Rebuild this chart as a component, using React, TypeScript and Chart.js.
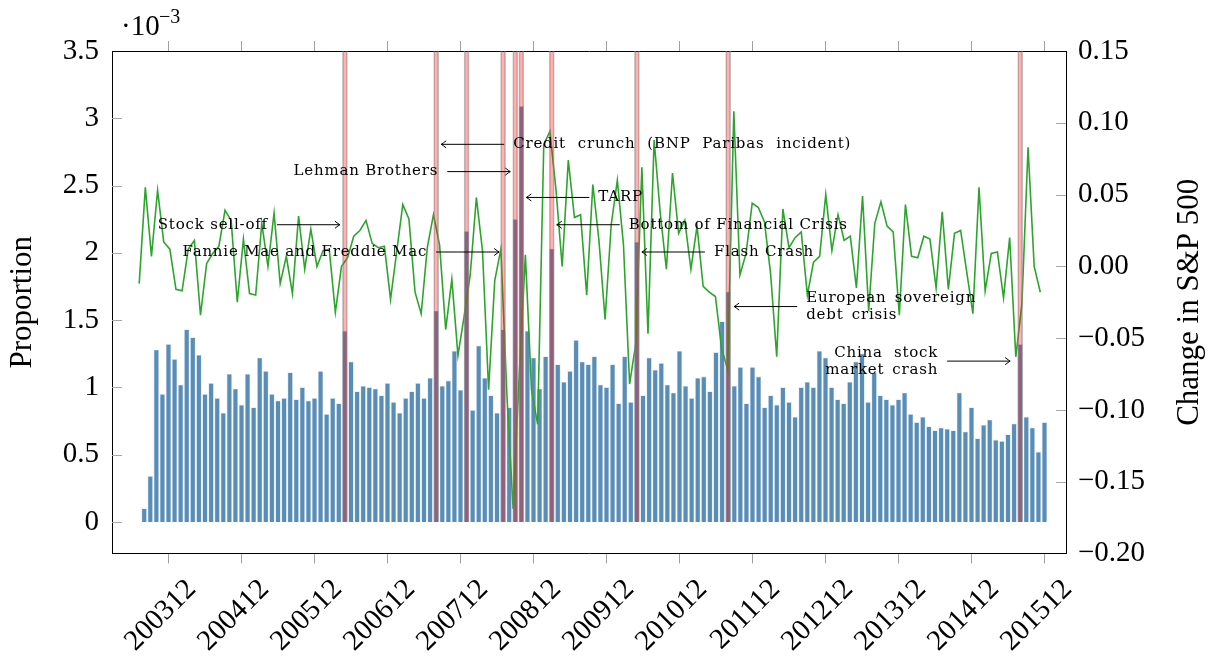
import React, { useEffect, useRef } from "react";
import { Chart, registerables } from "chart.js";

Chart.register(...registerables);

// ---------------- data ----------------
const BAR_START = "200308";
const LINE_START = "200309";

// Proportion (x 10^-3), monthly 2003-08 .. 2015-12
const proportion = [
  0.1, 0.34, 1.28, 0.95, 1.32, 1.21, 1.02, 1.43, 1.37, 1.24, 0.95, 1.03, 0.92, 0.81, 1.1, 0.99, 0.87, 1.1, 0.85, 1.22, 1.12, 0.95,
  0.9, 0.92, 1.11, 0.91, 1.0, 0.9, 0.92, 1.12, 0.8, 0.92, 0.88, 1.42, 1.19, 0.97, 1.01, 1.0, 0.99, 0.94, 1.03, 0.89, 0.81, 0.92, 0.97, 1.03, 0.92,
  1.07, 1.57, 1.01, 1.05, 1.27, 0.98, 2.16, 0.83, 1.31, 1.07, 0.94, 0.81, 1.43, 0.85, 2.25, 3.09, 1.42, 1.22, 0.99, 1.23, 2.03, 1.17, 1.04, 1.12, 1.35,
  1.19, 1.17, 1.23, 1.02, 1.0, 1.17, 0.88, 1.23, 0.89, 2.08, 0.94, 1.22, 1.13, 1.18, 1.02, 0.96, 1.27, 1.01, 0.92, 1.07, 1.08, 0.97, 1.26, 1.49, 1.71,
  1.01, 1.15, 0.88, 1.15, 1.08, 0.85, 0.94, 0.87, 1.0, 0.89, 0.78, 1.0, 1.04, 1.0, 1.27, 1.22, 1.0, 0.91, 0.88, 1.04, 1.19, 1.25, 0.89, 1.11, 0.94, 0.91, 0.87,
  0.91, 0.96, 0.8, 0.74, 0.78, 0.71, 0.68, 0.7, 0.69, 0.68, 0.96, 0.67, 0.85, 0.62, 0.72, 0.76, 0.61, 0.6, 0.65, 0.73, 1.32, 0.78, 0.7, 0.52, 0.74,
];

// Monthly change in S&P 500, 2003-09 .. 2015-12
const spChange = [
  -0.012, 0.055, 0.007, 0.053, 0.017, 0.012, -0.016, -0.017, 0.012, 0.018, -0.034, 0.002,
  0.009, 0.014, 0.039, 0.032, -0.025, 0.019, -0.019, -0.02, 0.03, 0.0,
  0.037, -0.012, 0.007, -0.019, 0.035, -0.002, 0.026, 0.0, 0.011, 0.012, -0.032, 0.0, 0.006, 0.021, 0.025, 0.032, 0.016, 0.013, 0.014, -0.023, 0.01, 0.043, 0.033, -0.018, -0.033, 0.013,
  0.036, 0.015, -0.044, -0.009, -0.062, -0.035, -0.006, 0.048, 0.011, -0.086, -0.01, 0.012, -0.091, -0.169, -0.075, 0.008, -0.086, -0.11, 0.085, 0.094, 0.053, 0.0, 0.074, 0.034, 0.036,
  -0.02, 0.057, 0.018, -0.037, 0.029, 0.06, 0.015, -0.082, -0.054, 0.069, -0.047, 0.088, 0.037, -0.002, 0.065, 0.023, 0.032, -0.002, 0.028, -0.014, -0.018, -0.021, -0.057, -0.072, 0.108,
  -0.006, 0.009, 0.044, 0.041, 0.031, -0.005, -0.063, 0.04, 0.013, 0.02, 0.024, -0.02, 0.003, 0.007, 0.05, 0.011, 0.036, 0.018, 0.021, -0.015, 0.049, -0.031, 0.03, 0.045, 0.028, 0.024,
  -0.034, 0.043, 0.007, 0.006, 0.021, 0.019, -0.015, 0.038, -0.016, 0.023, 0.025, -0.004, -0.033, 0.055, -0.017, 0.009, 0.01, -0.022, 0.02, -0.063, -0.026, 0.083, 0.0, -0.018,
];

const eventMonths = ["200605", "200708", "200801", "200807", "200809", "200810", "200903", "201005", "201108", "201508"];

const xTickMonths = ["200312", "200412", "200512", "200612", "200712", "200812", "200912", "201012", "201112", "201212", "201312", "201412", "201512"];
const leftTicks = [0, 0.5, 1, 1.5, 2, 2.5, 3, 3.5];
const rightTicks = [-0.2, -0.15, -0.1, -0.05, 0, 0.05, 0.1, 0.15];

const annotationTexts = [
  ["Credit crunch (BNP Paribas incident)"],
  ["Lehman Brothers"],
  ["TARP"],
  ["Stock sell-off"],
  ["Bottom of Financial Crisis"],
  ["Fannie Mae and Freddie Mac"],
  ["Flash Crash"],
  ["European sovereign", "debt crisis"],
  ["China stock", "market crash"],
];
const annotationEvents = ["200708", "200809", "200810", "200605", "200903", "200807", "201005", "201108", "201508"];
const annotationLevels = [0.085, 0.066, 0.048, 0.029, 0.029, 0.01, 0.01, -0.028, -0.066];

// ---------------- styling / layout ----------------
const annotationSide = ["right", "left", "right", "left", "right", "left", "right", "right", "left"];
const annotationWidths: (number | null)[][] = [[338], [null], [null], [null], [null], [null], [92], [170, 91], [104, 113]];
const annotationTipGap = [5, 5, 5, 5, 5, 4, 5, 6, 10];

const W = 1211;
const H = 660;
const AREA = { left: 112, right: 1066, top: 51, bottom: 553.5 };
const SERIF = '"Liberation Serif", "Times New Roman", serif';
const ANN_FONT = '15px "DejaVu Serif", serif';

function monthSeq(start: string, n: number): string[] {
  let y = +start.slice(0, 4);
  let m = +start.slice(4);
  const out: string[] = [];
  for (let i = 0; i < n; i++) {
    out.push(`${y}${String(m).padStart(2, "0")}`);
    m++;
    if (m > 12) {
      m = 1;
      y++;
    }
  }
  return out;
}
function monthPos(m: string): number {
  return (+m.slice(0, 4) - 2003) * 12 + (+m.slice(4) - 1);
}

// axis ranges (month units)
const X_MIN = 1.712;
const X_MAX = 158.534;
const XL_MIN = 3.563;
const XL_MAX = 159.19;

const fmtRight = (v: number) => (v < 0 ? "\u2212" : "") + Math.abs(v).toFixed(2);

function drawArrow(ctx: CanvasRenderingContext2D, x1: number, y: number, x2: number) {
  const dir = x2 > x1 ? 1 : -1;
  ctx.beginPath();
  ctx.moveTo(x1, y);
  ctx.lineTo(x2, y);
  ctx.stroke();
  ctx.beginPath();
  ctx.moveTo(x2 - dir * 5, y - 3.6);
  ctx.quadraticCurveTo(x2 - dir * 1.5, y - 0.8, x2, y);
  ctx.quadraticCurveTo(x2 - dir * 1.5, y + 0.8, x2 - dir * 5, y + 3.6);
  ctx.stroke();
}

const overlayPlugin = {
  id: "overlay",
  afterDraw(chart: any) {
    const { ctx, chartArea: ca, scales } = chart;
    ctx.save();
    // inner y ticks (skip those on the box edges)
    ctx.strokeStyle = "#a8a8a8";
    ctx.lineWidth = 1;
    leftTicks.forEach((v) => {
      const py = scales.y.getPixelForValue(v);
      if (py <= ca.top + 1 || py >= ca.bottom - 1) return;
      const y = Math.round(py) + 0.5;
      ctx.beginPath();
      ctx.moveTo(ca.left, y);
      ctx.lineTo(ca.left + 10, y);
      ctx.stroke();
    });
    rightTicks.forEach((v) => {
      const py = scales.y2.getPixelForValue(v);
      if (py <= ca.top + 1 || py >= ca.bottom - 1) return;
      const y = Math.round(py) + 0.5;
      ctx.beginPath();
      ctx.moveTo(ca.right - 10, y);
      ctx.lineTo(ca.right, y);
      ctx.stroke();
    });

    // axis titles
    ctx.fillStyle = "#000";
    ctx.font = `31px ${SERIF}`;
    ctx.textAlign = "center";
    ctx.textBaseline = "middle";
    const cy = (ca.top + ca.bottom) / 2;
    ctx.save();
    ctx.translate(23, cy);
    ctx.rotate(-Math.PI / 2);
    ctx.fillText("Proportion", 0, 0);
    ctx.restore();
    ctx.save();
    ctx.translate(1190, cy);
    ctx.rotate(-Math.PI / 2);
    ctx.fillText("Change in S&P 500", 0, 0);
    ctx.restore();

    // exponent label
    ctx.textAlign = "left";
    ctx.textBaseline = "alphabetic";
    ctx.font = `29px ${SERIF}`;
    ctx.fillText("\u00B710", 121, 35);
    ctx.font = `20px ${SERIF}`;
    ctx.fillText("\u22123", 159, 23);

    // annotations
    ctx.strokeStyle = "#000";
    ctx.lineWidth = 1;
    ctx.font = ANN_FONT;
    ctx.textBaseline = "middle";
    (ctx as any).letterSpacing = "0.8px";
    annotationTexts.forEach((lines, i) => {
      const bandX = scales.x.getPixelForValue(monthPos(annotationEvents[i]));
      const y = scales.y2.getPixelForValue(annotationLevels[i]);
      const right = annotationSide[i] === "right";
      const tip = right ? bandX + annotationTipGap[i] : bandX - annotationTipGap[i];
      const tail = right ? tip + 63 : tip - 63;
      drawArrow(ctx, tail, y, tip);
      const n = lines.length;
      lines.forEach((t, li) => {
        const ly = y + (li - (n - 1) / 2) * 17;
        (ctx as any).wordSpacing = "0px";
        const natural = ctx.measureText(t).width;
        const target = annotationWidths[i][li];
        const spaces = (t.match(/ /g) || []).length;
        let width = natural;
        if (target && spaces > 0 && target > natural) {
          (ctx as any).wordSpacing = `${(target - natural) / spaces}px`;
          width = target;
        }
        ctx.textAlign = "left";
        const x = right ? tail + 9 : tail - 9 - width;
        ctx.fillText(t, x, ly);
      });
      (ctx as any).wordSpacing = "0px";
    });
    ctx.restore();
  },
};

export default function App() {
  const ref = useRef<HTMLCanvasElement | null>(null);

  useEffect(() => {
    if (!ref.current) return;
    const barMonths = monthSeq(BAR_START, proportion.length);
    const lineMonths = monthSeq(LINE_START, spChange.length);
    const xTickValues = xTickMonths.map(monthPos);

    const xTicksBuild = (s: any) => {
      s.ticks = xTickValues.map((v) => ({ value: v }));
    };

    const chart = new Chart(ref.current, {
      type: "bar",
      data: {
        datasets: [
          {
            type: "bar",
            label: "events",
            data: eventMonths.map((m) => ({ x: monthPos(m), y: [0, leftTicks[leftTicks.length - 1]] })) as any,
            xAxisID: "x",
            yAxisID: "y",
            backgroundColor: "rgba(255,0,0,0.3)",
            borderColor: "rgba(140,140,140,0.55)",
            borderWidth: { left: 1, right: 1, top: 0, bottom: 0 } as any,
            borderSkipped: false,
            barThickness: 5,
            grouped: false,
            order: 0,
          } as any,
          {
            type: "line",
            label: "S&P 500",
            data: spChange.map((v, j) => ({ x: monthPos(lineMonths[j]), y: v })),
            xAxisID: "xl",
            yAxisID: "y2",
            borderColor: "#2ca52c",
            borderWidth: 1.6,
            pointRadius: 0,
            tension: 0,
            fill: false,
            order: 1,
          } as any,
          {
            type: "bar",
            label: "Proportion",
            data: proportion.map((v, k) => ({ x: monthPos(barMonths[k]), y: v })),
            xAxisID: "x",
            yAxisID: "y",
            backgroundColor: "#5a8db6",
            borderColor: "rgba(215,230,242,0.9)",
            borderWidth: 0.8,
            barThickness: 5,
            grouped: false,
            order: 2,
          } as any,
        ],
      },
      options: {
        animation: false,
        responsive: true,
        maintainAspectRatio: false,
        layout: { padding: 0 },
        plugins: { legend: { display: false }, tooltip: { enabled: false } },
        scales: {
          x: {
            type: "linear",
            position: "bottom",
            offset: false,
            min: X_MIN,
            max: X_MAX,
            afterBuildTicks: xTicksBuild,
            afterFit: (s: any) => {
              s.height = H - AREA.bottom;
            },
            ticks: {
              autoSkip: false,
              maxRotation: 45,
              minRotation: 45,
              padding: 9,
              labelOffset: 23,
              color: "#000",
              font: { family: SERIF, size: 29 },
              callback: (_v: any, i: number) => xTickMonths[i],
            },
            grid: { offset: false, drawOnChartArea: false, drawTicks: true, tickLength: 10, tickColor: "#a0a0a0" },
            border: { display: true, color: "#000", width: 1 },
          },
          xTop: {
            type: "linear",
            position: "top",
            offset: false,
            min: X_MIN,
            max: X_MAX,
            afterBuildTicks: xTicksBuild,
            afterFit: (s: any) => {
              s.height = AREA.top;
            },
            ticks: { display: false },
            grid: { offset: false, drawOnChartArea: false, drawTicks: true, tickLength: 10, tickColor: "#a0a0a0" },
            border: { display: true, color: "#000", width: 1 },
          },
          xl: {
            type: "linear",
            display: false,
            offset: false,
            min: XL_MIN,
            max: XL_MAX,
            grid: { offset: false },
          },
          y: {
            position: "left",
            min: -0.234,
            max: 3.5,
            afterBuildTicks: (s: any) => {
              s.ticks = leftTicks.map((v) => ({ value: v }));
            },
            afterFit: (s: any) => {
              s.width = AREA.left;
            },
            ticks: {
              padding: 13,
              color: "#000",
              font: { family: SERIF, size: 29 },
              callback: (v: any) => String(v),
            },
            grid: { display: false, drawTicks: false },
            border: { display: true, color: "#000", width: 1 },
          },
          y2: {
            position: "right",
            min: -0.2,
            max: 0.15,
            afterBuildTicks: (s: any) => {
              s.ticks = rightTicks.map((v) => ({ value: v }));
            },
            afterFit: (s: any) => {
              s.width = W - AREA.right;
            },
            ticks: {
              padding: 12,
              color: "#000",
              font: { family: SERIF, size: 29 },
              callback: (v: any) => fmtRight(Number(v)),
            },
            grid: { display: false, drawTicks: false },
            border: { display: true, color: "#000", width: 1 },
          },
        } as any,
      },
      plugins: [overlayPlugin as any],
    });
    return () => chart.destroy();
  }, []);

  return (
    <div style={{ position: "fixed", left: 0, top: 0, width: W, height: H, background: "#fff" }}>
      <canvas ref={ref} />
    </div>
  );
}
